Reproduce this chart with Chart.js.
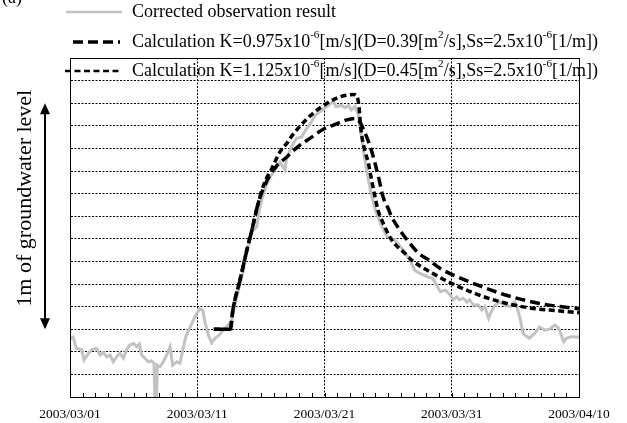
<!DOCTYPE html>
<html>
<head>
<meta charset="utf-8">
<script src="https://cdn.jsdelivr.net/npm/chart.js@4/dist/chart.umd.min.js"></script>
<style>
html,body{margin:0;padding:0;background:#fff;}
#wrap{position:relative;width:627px;height:423px;}
</style>
</head>
<body>
<div id="wrap"><canvas id="c" width="627" height="423"></canvas></div>
<script>
// ---- data (x = days since 2003/03/01, y = level in 0.1 m units) ----
const dateLabels = ['2003/03/01','2003/03/11','2003/03/21','2003/03/31','2003/04/10'];
const yLabel = '1m of groundwater level';
const seriesNames = [
  'Corrected observation result',
  'Calculation K=0.975x10^{-6}[m/s](D=0.39[m^{2}/s],Ss=2.5x10^{-6}[1/m])',
  'Calculation K=1.125x10^{-6}[m/s](D=0.45[m^{2}/s],Ss=2.5x10^{-6}[1/m])'
];
const panelTag = '(a)';

const obsDays = [0,0.25,0.5,0.9,1.1,1.45,1.7,2.1,2.36,2.6,
 2.9,3.14,3.4,3.67,3.93,4.2,4.45,4.7,5.0,5.24,
 5.45,5.63,5.9,6.15,6.4,6.6,6.68,6.8,6.86,7.07,
 7.33,7.6,7.86,8.07,8.4,8.64,8.86,9.1,9.37,9.7,
 9.96,10.2,10.43,10.6,10.87,11.13,11.4,11.65,12.05,12.44,
 12.7,13.1,13.6,13.9,14.3,14.67,14.93,15.2,15.6,16.0,
 16.5,16.9,17.0,17.4,17.8,18.2,18.5,18.9,19.25,19.8,
 20.3,20.7,20.9,21.35,21.6,21.9,22.1,22.4,22.65,22.8,
 23.05,23.3,23.6,24.0,24.4,24.9,25.5,26.2,26.7,27.1,
 27.5,28.2,28.5,28.8,29.1,29.5,29.9,30.1,30.4,30.6,
 30.9,31.2,31.4,31.7,32.1,32.35,32.6,32.9,33.1,33.4,
 33.8,34.2,34.6,34.97,35.1,35.4,35.6,36.1,36.5,36.9,
 37.3,37.7,38.1,38.4,38.8,39.0,39.4,40];
const obsLevels = [2.6,2.65,2.15,2.1,1.64,1.93,2.1,2.15,1.86,1.96,
 1.78,1.86,1.56,1.78,1.93,1.72,2.08,2.3,2.37,2.22,
 2.34,1.86,1.71,1.56,1.6,1.5,-0.2,-0.2,1.41,1.34,
 1.56,1.86,2.22,1.41,1.56,1.49,2.08,2.67,3.0,3.4,
 3.7,3.9,3.85,3.33,2.74,2.4,2.6,2.7,2.96,3.19,
 3.38,4.43,5.54,6.5,7.3,7.53,8.42,9.0,9.6,9.97,
 10.4,10.04,10.5,11.07,11.45,11.5,11.8,12.1,12.45,12.7,
 12.9,13.07,12.85,12.9,12.8,12.9,12.7,12.85,12.5,11.96,
 10.93,10.04,9.16,8.27,7.68,7.1,6.95,6.5,6.06,5.6,
 5.47,5.3,5.25,4.96,4.66,4.73,4.5,4.3,4.43,4.3,
 4.37,4.2,4.3,4.07,4.07,3.85,4.0,3.48,3.77,4.07,
 4.2,4.07,4.0,4.2,4.07,3.4,2.8,2.6,2.8,3.1,
 2.96,3.0,3.19,3.04,2.45,2.6,2.67,2.64];

const calcADays = [11.3,12.6,12.8,13.36,13.9,14.3,14.8,15.3,15.7,16.2,17.0,17.9,19.0,19.9,20.7,21.75,22.4,22.8,23.1,23.6,23.97,24.3,24.6,25.0,25.28,25.9,26.3,27.4,28.2,29.1,30.1,32.0,34.3,36.9,38.5,40];
const calcALevels = [3.0,3.0,3.85,5.18,6.5,7.4,8.6,9.35,9.8,10.2,10.6,11.07,11.5,11.85,12.03,12.26,12.32,12.15,11.8,11.07,10.34,9.6,8.86,8.35,7.97,7.4,7.09,6.36,6.06,5.69,5.4,4.96,4.5,4.14,4.0,3.9];

const calcBDays = [11.3,12.6,12.8,13.36,13.9,14.3,14.8,15.3,15.85,16.5,17.0,17.5,18.1,19.1,20.2,21.2,22.3,22.55,22.7,22.85,23.1,23.45,23.7,23.97,24.2,24.5,25.28,26.3,26.85,28.5,30.25,32.2,34.3,36.4,38.2,40];
const calcBLevels = [3.0,3.0,3.85,5.18,6.5,7.4,8.6,9.5,10.1,10.85,11.2,11.6,12.0,12.55,13.0,13.28,13.38,13.3,12.9,11.9,11.07,10.34,9.6,8.86,8.27,7.83,6.95,6.36,6.06,5.47,4.96,4.5,4.14,3.92,3.82,3.73];

const arrowRange = [3, 13];

// ---- build ----
const pts = (xs, ys) => xs.map((x, i) => ({x: x, y: ys[i]}));
const FONT = "'Liberation Serif','Times New Roman',serif";
const GRAY = '#c2c2c2';
const DASH_A = [10, 5];
const DASH_B = [6, 3.5];
const GRID_DASH = [2, 1.5];

function drawRich(ctx, x, y, str, size) {
  const parts = str.split(/(\^\{[^}]*\})/).filter(s => s.length);
  let cx = x;
  ctx.textBaseline = 'middle';
  ctx.textAlign = 'left';
  for (const p of parts) {
    if (p.startsWith('^{')) {
      const t = p.slice(2, -1);
      ctx.font = (size * 0.62) + 'px ' + FONT;
      ctx.fillText(t, cx, y - size * 0.38);
      cx += ctx.measureText(t).width;
    } else {
      ctx.font = size + 'px ' + FONT;
      ctx.fillText(p, cx, y);
      cx += ctx.measureText(p).width;
    }
  }
}

const decorPlugin = {
  id: 'decor',
  afterDraw(chart) {
    const ctx = chart.ctx;
    const a = chart.chartArea;
    const xs = chart.scales.x, ys = chart.scales.y;
    ctx.save();
    // frame
    ctx.strokeStyle = '#000';
    ctx.lineWidth = 1;
    ctx.setLineDash([]);
    ctx.strokeRect(Math.round(a.left) + 0.5, Math.round(a.top) + 0.5, Math.round(a.right - a.left), Math.round(a.bottom - a.top));
    // minor ticks (daily, inward)
    ctx.beginPath();
    for (let d = xs.min; d <= xs.max; d += 1) {
      const px = Math.round(xs.getPixelForValue(d)) + 0.5;
      ctx.moveTo(px, a.bottom);
      ctx.lineTo(px, a.bottom - 4);
    }
    ctx.stroke();

    // legend
    ctx.fillStyle = '#000';
    const legY = [12, 42, 71];
    const textX = 132;
    ctx.lineWidth = 2.5;
    ctx.strokeStyle = GRAY;
    ctx.beginPath(); ctx.moveTo(66, legY[0]); ctx.lineTo(122, legY[0]); ctx.stroke();
    ctx.strokeStyle = '#000';
    ctx.lineWidth = 3.5;
    ctx.setLineDash(DASH_A);
    ctx.beginPath(); ctx.moveTo(73, legY[1]); ctx.lineTo(120, legY[1]); ctx.stroke();
    ctx.setLineDash(DASH_B);
    ctx.lineWidth = 2.5;
    ctx.beginPath(); ctx.moveTo(65, legY[2]); ctx.lineTo(120, legY[2]); ctx.stroke();
    ctx.setLineDash([]);
    for (let i = 0; i < seriesNames.length; i++) {
      drawRich(ctx, textX, legY[i], seriesNames[i], 18);
    }

    // y label
    ctx.save();
    ctx.translate(25, (ys.getPixelForValue(arrowRange[0]) + ys.getPixelForValue(arrowRange[1])) / 2 - 18);
    ctx.rotate(-Math.PI / 2);
    ctx.font = '22px ' + FONT;
    ctx.textAlign = 'center';
    ctx.textBaseline = 'middle';
    ctx.fillText(yLabel, 0, 0);
    ctx.restore();

    // double arrow
    const y1 = ys.getPixelForValue(arrowRange[1]);
    const y0 = ys.getPixelForValue(arrowRange[0]);
    const ax = 45;
    ctx.lineWidth = 2;
    ctx.beginPath(); ctx.moveTo(ax, y1 + 6); ctx.lineTo(ax, y0 - 6); ctx.stroke();
    ctx.beginPath();
    ctx.moveTo(ax, y1); ctx.lineTo(ax - 5, y1 + 11); ctx.lineTo(ax + 5, y1 + 11); ctx.closePath();
    ctx.moveTo(ax, y0); ctx.lineTo(ax - 5, y0 - 11); ctx.lineTo(ax + 5, y0 - 11); ctx.closePath();
    ctx.fill();

    // panel tag (cut at top)
    ctx.font = '18px ' + FONT;
    ctx.textBaseline = 'alphabetic';
    ctx.textAlign = 'left';
    ctx.fillText(panelTag, 2, 3);
    ctx.restore();
  }
};

new Chart(document.getElementById('c'), {
  type: 'line',
  data: {
    datasets: [
      {label: seriesNames[1], data: pts(calcADays, calcALevels), borderColor: '#000', borderWidth: 3.5,
       borderDash: DASH_A, pointRadius: 0, fill: false, cubicInterpolationMode: 'monotone', order: 2},
      {label: seriesNames[2], data: pts(calcBDays, calcBLevels), borderColor: '#000', borderWidth: 3.5,
       borderDash: DASH_B, pointRadius: 0, fill: false, cubicInterpolationMode: 'monotone', order: 1},
      {label: seriesNames[0], data: pts(obsDays, obsLevels), borderColor: GRAY, borderWidth: 3,
       pointRadius: 0, fill: false, tension: 0, order: 5}
    ]
  },
  options: {
    responsive: false,
    animation: false,
    devicePixelRatio: 1,
    layout: {padding: {left: 70, top: 58, right: 48, bottom: 0}},
    plugins: {legend: {display: false}, tooltip: {enabled: false}},
    scales: {
      x: {
        type: 'linear', min: 0, max: 40,
        afterFit: s => { s.height = 26; },
        ticks: {
          stepSize: 1, autoSkip: false, maxRotation: 0, padding: 9, color: '#000',
          font: {family: FONT, size: 13.5},
          callback: v => (v % 10 === 0 ? dateLabels[v / 10] : '')
        },
        grid: {
          drawTicks: false, lineWidth: 1,
          color: c => (c.tick && c.tick.value % 10 === 0 ? '#000' : 'rgba(0,0,0,0)')
        },
        border: {display: true, color: '#000', width: 1, dash: GRID_DASH}
      },
      y: {
        min: 0, max: 15,
        afterFit: s => { s.width = 0; },
        ticks: {display: false, stepSize: 1},
        grid: {drawTicks: false, color: '#000', lineWidth: 1},
        border: {display: true, color: '#000', width: 1, dash: GRID_DASH}
      }
    }
  },
  plugins: [decorPlugin]
});
</script>
</body>
</html>
